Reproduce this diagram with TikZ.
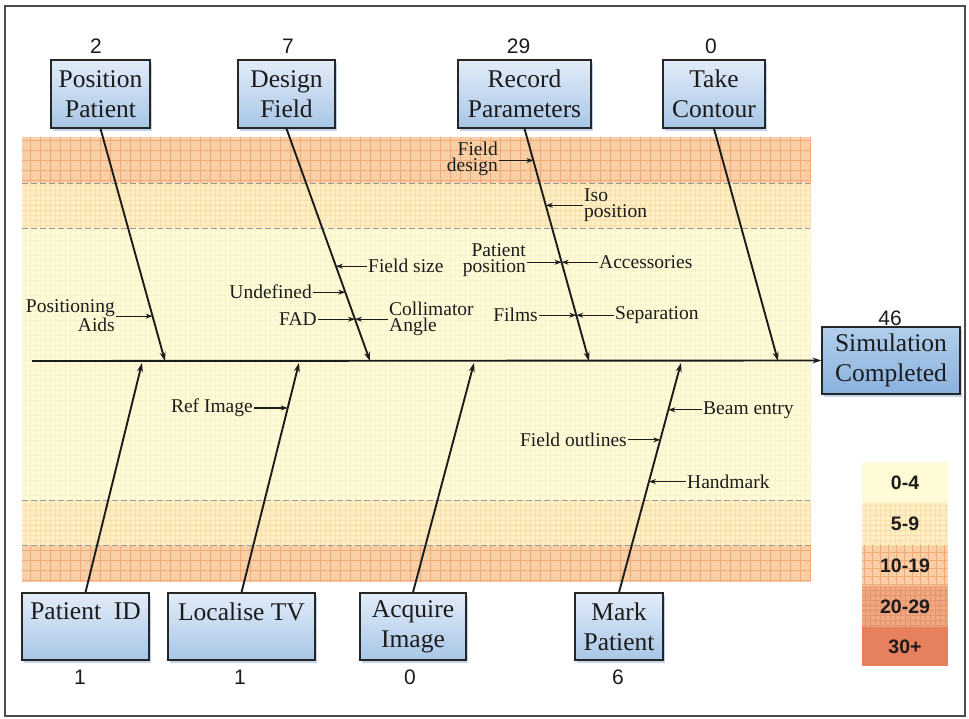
\documentclass[tikz,border=0pt]{standalone}
\usepackage{fontspec}
\setmainfont{Liberation Serif}
\newfontfamily\numfont{Liberation Sans}
\usetikzlibrary{arrows.meta,calc,shadows}

% colours of the process boxes
\definecolor{boxTop}{RGB}{226,236,248}
\definecolor{boxBot}{RGB}{168,198,230}
\definecolor{simTop}{RGB}{178,206,236}
\definecolor{simBot}{RGB}{138,178,222}
\definecolor{boxShade}{RGB}{170,195,230}
% colours of the frequency bands
\definecolor{bandPale}{RGB}{254,251,214}
\definecolor{bandLight}{RGB}{254,239,196}
\definecolor{bandOrange}{RGB}{249,208,166}
\definecolor{bandSalmon}{RGB}{240,168,128}
\definecolor{bandRed}{RGB}{231,128,92}
\definecolor{gridPale}{RGB}{248,243,205}
\definecolor{gridLight}{RGB}{248,222,170}
\definecolor{gridOrange}{RGB}{240,170,122}
\definecolor{gridRed}{RGB}{228,148,112}
\definecolor{ink}{RGB}{28,28,28}

\newcommand\boxfont{\fontsize{25.5}{30}\selectfont}
\newcommand\lblfont{\fontsize{19.5}{15.5}\selectfont}
\newcommand\cntfont{\numfont\fontsize{21}{22}\selectfont}
\newcommand\legfont{\numfont\bfseries\fontsize{19.5}{21}\selectfont}

\begin{document}
\begin{tikzpicture}[x=1pt,y=-1pt,
  procbox/.style={draw=black!85, line width=1.3pt, top color=boxTop,
    bottom color=boxBot, align=center, font=\boxfont, text=ink,
    inner sep=0pt,
    drop shadow={shadow xshift=2pt, shadow yshift=-3pt, fill=boxShade,
      opacity=0.7}},
  count/.style={font=\cntfont, text=ink, inner sep=0pt},
  lbl/.style={font=\lblfont, text=ink, inner sep=1pt},
  bone/.style={draw=ink, line width=1.9pt,
    -{Stealth[length=9pt,width=6pt]}},
  sub/.style={draw=ink, line width=1.1pt,
    -{Stealth[length=7pt,width=5pt]}},
  bandline/.style={draw=gray!80, line width=0.8pt, dash pattern=on 6pt off 3pt},
  legbox/.style={minimum width=86, minimum height=41, inner sep=0pt,
    font=\legfont, text=ink},
]
\useasboundingbox (0,0) rectangle (969,719);

% outer frame
\draw[line width=1.5pt, black!70] (5,6) rectangle (965,716);

% frequency bands behind the diagram
\fill[bandPale] (22,137) rectangle (810,582);
\draw[gridPale, line width=0.3pt] (22,228) grid[xstep=5pt,ystep=5pt] (810,500);
\fill[bandOrange] (22,137) rectangle (810,183);
\fill[bandOrange] (22,545) rectangle (810,582);
\draw[gridOrange, line width=0.5pt] (22,137) grid[xstep=10pt,ystep=10pt] (810,183);
\draw[gridOrange, line width=0.5pt] (22,545) grid[xstep=10pt,ystep=10pt] (810,582);
\fill[bandLight] (22,183) rectangle (810,228);
\fill[bandLight] (22,500) rectangle (810,545);
\draw[gridLight, line width=0.3pt] (22,183) grid[xstep=5pt,ystep=5pt] (810,228);
\draw[gridLight, line width=0.3pt] (22,500) grid[xstep=5pt,ystep=5pt] (810,545);
\draw[bandline] (22,183) -- (810,183);
\draw[bandline] (22,228) -- (810,228);
\draw[bandline] (22,500) -- (810,500);
\draw[bandline] (22,545) -- (810,545);

% legend
\fill[bandPale]   (862,462) rectangle (948,503);
\fill[bandLight]  (862,503) rectangle (948,545);
\fill[bandOrange] (862,545) rectangle (948,586);
\fill[bandSalmon] (862,586) rectangle (948,627);
\fill[bandRed]    (862,627) rectangle (948,666);
\draw[gridLight, line width=0.3pt] (862,503) grid[xstep=5pt,ystep=5pt] (948,545);
\draw[gridOrange, line width=0.3pt] (862,545) grid[xstep=8pt,ystep=8pt] (948,586);
\draw[gridRed, line width=0.3pt] (862,586) grid[xstep=5pt,ystep=5pt] (948,627);
\node[legbox] (L1) at (905,482.5) {0-4};
\node[legbox] (L2) at (905,524)   {5-9};
\node[legbox] (L3) at (905,565.5) {10-19};
\node[legbox] (L4) at (905,606.5) {20-29};
\node[legbox] (L5) at (905,646.5) {30+};

% effect box
\node[procbox, minimum width=138, minimum height=67, top color=simTop,
  bottom color=simBot] (SIM) at (891,360.5) {Simulation\\Completed};
\node[count] (cSIM) at (890,318) {46};

% spine
\coordinate (tail) at (32,361);
\draw[bone] (tail) -- (SIM.west);

% upper cause boxes
\node[procbox, minimum width=99,  minimum height=68] (PP) at (100.5,94) {Position\\Patient};
\node[procbox, minimum width=97,  minimum height=68] (DF) at (286.5,94) {Design\\Field};
\node[procbox, minimum width=133, minimum height=68] (RP) at (524.5,94) {Record\\Parameters};
\node[procbox, minimum width=102, minimum height=68] (TC) at (714,94)   {Take\\Contour};
\node[count] (cPP) at (96,46.5)  {2};
\node[count] (cDF) at (288,46.5) {7};
\node[count] (cRP) at (518.5,46.5) {29};
\node[count] (cTC) at (711,46.5) {0};

% lower cause boxes
\node[procbox, minimum width=127, minimum height=67] (PID) at (85.5,626.5) {Patient\ \ ID\\\mbox{}};
\node[procbox, minimum width=147, minimum height=67] (LTV) at (241.5,626.5) {Localise TV\\\mbox{}};
\node[procbox, minimum width=106, minimum height=67] (AI)  at (413,626.5) {Acquire\\Image};
\node[procbox, minimum width=88,  minimum height=67] (MP)  at (619,626.5) {Mark\\Patient};
\node[count] (cPID) at (80,677)  {1};
\node[count] (cLTV) at (240,677) {1};
\node[count] (cAI)  at (410,677) {0};
\node[count] (cMP)  at (618,677) {6};

% where the bones meet the spine
\coordinate (s1) at (165,361);
\coordinate (s2) at (370,361);
\coordinate (s3) at (589,361);
\coordinate (s4) at (778,361);
\coordinate (s5) at (142,363);
\coordinate (s6) at (299,363);
\coordinate (s7) at (474,363);
\coordinate (s8) at (681,363);

\draw[bone] (PP.south) -- (s1);
\draw[bone] (DF.south) -- (s2);
\draw[bone] (RP.south) -- (s3);
\draw[bone] (TC.south) -- (s4);
\draw[bone] (PID.north) -- (s5);
\draw[bone] (LTV.north) -- (s6);
\draw[bone] (AI.north) -- (s7);
\draw[bone] (MP.north) -- (s8);

% points on the bones where the sub-causes attach
\coordinate (pPA) at ($(PP.south)!0.807!(s1)$);
\coordinate (pFS) at ($(DF.south)!0.592!(s2)$);
\coordinate (pUD) at ($(DF.south)!0.704!(s2)$);
\coordinate (pFA) at ($(DF.south)!0.820!(s2)$);
\coordinate (pFD) at ($(RP.south)!0.137!(s3)$);
\coordinate (pIS) at ($(RP.south)!0.330!(s3)$);
\coordinate (pPO) at ($(RP.south)!0.575!(s3)$);
\coordinate (pFI) at ($(RP.south)!0.803!(s3)$);
\coordinate (pRI) at ($(LTV.north)!0.804!(s6)$);
\coordinate (pBE) at ($(MP.north)!0.796!(s8)$);
\coordinate (pFO) at ($(MP.north)!0.665!(s8)$);
\coordinate (pHM) at ($(MP.north)!0.483!(s8)$);

% sub-cause labels
\node[lbl, anchor=east, align=right] (lPA) at (116,316) {Positioning\\Aids};
\node[lbl, anchor=west] (lFS) at (367,266) {Field size};
\node[lbl, anchor=east] (lUD) at (313,292) {Undefined};
\node[lbl, anchor=east] (lFAD) at (318,319) {FAD};
\node[lbl, anchor=west, align=left] (lCA) at (388,319) {Collimator\\Angle};
\node[lbl, anchor=east, align=right] (lFD) at (499,159) {Field\\design};
\node[lbl, anchor=west, align=left] (lIS) at (583,205) {Iso\\position};
\node[lbl, anchor=east, align=right] (lPO) at (527,260) {Patient\\position};
\node[lbl, anchor=west] (lAC) at (598,262) {Accessories};
\node[lbl, anchor=east] (lFI) at (539,315) {Films};
\node[lbl, anchor=west] (lSE) at (614,315) {Separation};
\node[lbl, anchor=east] (lRI) at (254,408) {Ref Image};
\node[lbl, anchor=west] (lBE) at (702,410) {Beam entry};
\node[lbl, anchor=east] (lFO) at (628,440) {Field outlines};
\node[lbl, anchor=west] (lHM) at (686,482) {Handmark};

% sub-cause arrows
\draw[sub] (lPA.east |- pPA) -- (pPA);
\draw[sub] (lFS.west |- pFS) -- (pFS);
\draw[sub] (lUD.east |- pUD) -- (pUD);
\draw[sub] (lFAD.east |- pFA) -- (pFA);
\draw[sub] (lCA.west |- pFA) -- (pFA);
\draw[sub] (lFD.east |- pFD) -- (pFD);
\draw[sub] (lIS.west |- pIS) -- (pIS);
\draw[sub] (lPO.east |- pPO) -- (pPO);
\draw[sub] (lAC.west |- pPO) -- (pPO);
\draw[sub] (lFI.east |- pFI) -- (pFI);
\draw[sub] (lSE.west |- pFI) -- (pFI);
\draw[sub] (lRI.east |- pRI) -- (pRI);
\draw[sub] (lBE.west |- pBE) -- (pBE);
\draw[sub] (lFO.east |- pFO) -- (pFO);
\draw[sub] (lHM.west |- pHM) -- (pHM);
\end{tikzpicture}
\end{document}
